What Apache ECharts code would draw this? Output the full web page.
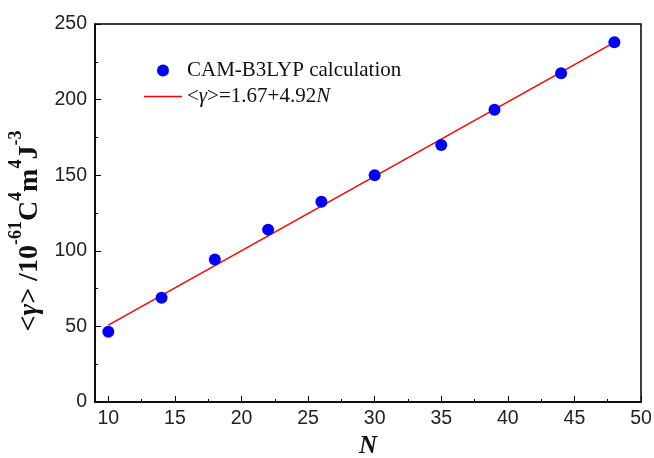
<!DOCTYPE html>
<html>
<head>
<meta charset="utf-8">
<script src="https://cdn.jsdelivr.net/npm/echarts@6/dist/echarts.min.js"></script>
<style>
html,body{margin:0;padding:0;background:#fff;}
#chart{width:654px;height:458px;}
</style>
</head>
<body>
<div id="chart"></div>
<script>
var nValues = [10, 14, 18, 22, 26, 30, 35, 39, 44, 48];
var gammaValues = [46.4, 68.9, 94.2, 114.0, 132.5, 149.9, 170.0, 193.3, 217.5, 237.9];
var fitN = [10, 48];
var fitGamma = [50.9, 237.8];
var xMajorTicks = [10, 15, 20, 25, 30, 35, 40, 45, 50];
var xMinorTicks = [12.5, 17.5, 22.5, 27.5, 32.5, 37.5, 42.5, 47.5];
var scatterName = 'CAM-B3LYP calculation';
var fitName = '<γ>=1.67+4.92N';

var chart = echarts.init(document.getElementById('chart'), null, {renderer: 'canvas'});
var serif = '"Liberation Serif", "Times New Roman", serif';
var sans = '"Liberation Sans", Arial, sans-serif';

var option = {
  backgroundColor: '#fff',
  animation: false,
  grid: {left: 95, right: 13, top: 24, bottom: 56, containLabel: false, outerBoundsMode: 'none',
    show: true, borderColor: '#000', borderWidth: 1.5, backgroundColor: 'transparent'},
  legend: {
    orient: 'vertical', left: 144, top: 60, itemGap: 5, itemWidth: 38, itemHeight: 12, padding: 0,
    symbolKeepAspect: true,
    textStyle: {fontFamily: serif, fontSize: 21, color: '#111',
      rich: {t: {fontFamily: serif, fontSize: 21, color: '#111'}, i: {fontFamily: serif, fontSize: 21, fontStyle: 'italic', color: '#111'}}},
    formatter: function (name) {
      if (name === fitName) return '{t|<}{i|γ}{t|>=1.67+4.92}{i|N}';
      return name;
    },
    data: [
      {name: scatterName, icon: 'circle'},
      {name: fitName, icon: 'path://M0,0 L38,0 L38,1.5 L0,1.5 Z'}
    ]
  },
  xAxis: [{
    type: 'value', min: 9, max: 50, minInterval: 5, maxInterval: 5,
    name: 'N', nameLocation: 'middle', nameGap: 30,
    nameTextStyle: {fontFamily: serif, fontSize: 25, fontWeight: 'bold', fontStyle: 'italic', color: '#111'},
    axisLine: {show: true, lineStyle: {color: '#000', width: 1.5}},
    axisTick: {show: true, inside: true, length: 6, lineStyle: {color: '#000', width: 1}, customValues: xMajorTicks},
    axisLabel: {fontFamily: sans, fontSize: 19.5, color: '#222', margin: 7, customValues: xMajorTicks},
    splitLine: {show: false}
  }, {
    type: 'value', min: 9, max: 50, position: 'bottom',
    axisLine: {show: false},
    axisTick: {show: true, inside: true, length: 3, lineStyle: {color: '#000', width: 1}, customValues: xMinorTicks},
    axisLabel: {show: false},
    splitLine: {show: false}
  }],
  yAxis: {
    type: 'value', min: 0, max: 250, interval: 50,
    name: '{b|<}{g|γ}{b|> /10}{s|-61}{b|C}{s|4}{b|m}{s|4}{b|J}{s|-3}',
    nameLocation: 'middle', nameGap: 36, nameRotate: 90,
    nameTextStyle: {
      padding: [0, 36, 0, 0],
      rich: {
        b: {fontFamily: serif, fontSize: 28, fontWeight: 'bold', color: '#111', lineHeight: 36, verticalAlign: 'bottom'},
        g: {fontFamily: serif, fontSize: 28, fontWeight: 'bold', fontStyle: 'italic', color: '#111', lineHeight: 36, verticalAlign: 'bottom'},
        s: {fontFamily: serif, fontSize: 18, fontWeight: 'bold', color: '#111', lineHeight: 36, verticalAlign: 'top'}
      }
    },
    axisLine: {show: true, lineStyle: {color: '#000', width: 1.5}},
    axisTick: {show: true, inside: true, length: 6, lineStyle: {color: '#000', width: 1}},
    minorTick: {show: true, splitNumber: 2, length: 3, lineStyle: {color: '#000', width: 1}},
    axisLabel: {fontFamily: sans, fontSize: 19.5, color: '#222', margin: 8},
    splitLine: {show: false}, minorSplitLine: {show: false}
  },
  series: [{
    name: fitName, type: 'line', xAxisIndex: 0,
    data: fitN.map(function (n, i) { return [n, fitGamma[i]]; }),
    symbol: 'none', lineStyle: {color: '#ff0000', width: 1.5}, itemStyle: {color: '#ff0000'}, z: 2
  }, {
    name: scatterName, type: 'scatter', xAxisIndex: 0,
    data: nValues.map(function (n, i) { return [n, gammaValues[i]]; }),
    symbol: 'circle', symbolSize: 12, itemStyle: {color: '#0000ff', opacity: 1}, z: 3
  }]
};
chart.setOption(option);
</script>
</body>
</html>
